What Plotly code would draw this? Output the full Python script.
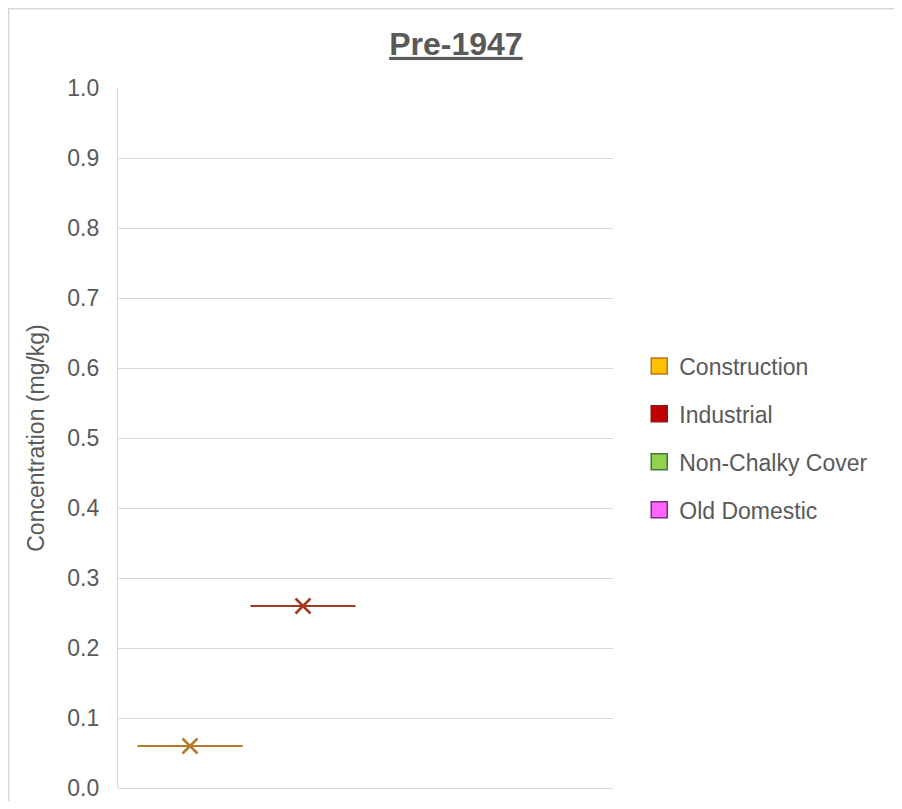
import numpy as np
import plotly.graph_objects as go

title = "Pre-1947"
series_names = ["Construction", "Industrial", "Non-Chalky Cover", "Old Domestic"]
construction = [0.06]
industrial = [0.26]
non_chalky_cover = []
old_domestic = []
series_values = [construction, industrial, non_chalky_cover, old_domestic]
y_ticks = [0.0, 0.1, 0.2, 0.3, 0.4, 0.5, 0.6, 0.7, 0.8, 0.9, 1.0]

fill_colors = ["#FFC000", "#C00000", "#92D050", "#FF66FF"]
line_colors = ["#B8782A", "#A23A22", "#3F7A3A", "#8A2E8A"]
legend_borders = ["#B8782A", "#8B1A1A", "#3F7A3A", "#7A2E7A"]

fig = go.Figure()
for i, (name, vals) in enumerate(zip(series_names, series_values)):
    pos = i + 1
    if len(vals) > 0:
        fig.add_trace(go.Box(
            y=vals, x0=pos, name=name, width=0.93,
            fillcolor=fill_colors[i], line=dict(color=line_colors[i], width=2),
            boxpoints=False, showlegend=False, hoverinfo="y",
        ))
        fig.add_trace(go.Scatter(
            x=[pos], y=[float(np.mean(vals))], mode="markers",
            marker=dict(symbol="x-thin", size=15, line=dict(color=line_colors[i], width=2.5)),
            showlegend=False, hoverinfo="y",
        ))
    fig.add_trace(go.Scatter(
        x=[None], y=[None], mode="markers", name=name, legendgroup=name,
        marker=dict(symbol="square", size=18, color=fill_colors[i],
                    line=dict(color=legend_borders[i], width=1.5)),
    ))

grey = "#595959"
fig.update_layout(
    width=894, height=793,
    margin=dict(l=110, r=289, t=80, b=13, autoexpand=False),
    paper_bgcolor="white", plot_bgcolor="white",
    font=dict(family="Liberation Sans, Arial, sans-serif", color=grey),
    title=dict(text="<b><u>" + title + "</u></b>", x=0.501, xanchor="center",
               y=0.955, yanchor="middle", font=dict(size=32, color=grey)),
    showlegend=True,
    legend=dict(x=1.053, y=0.5, xanchor="left", yanchor="middle",
                font=dict(size=23, color=grey), traceorder="grouped",
                tracegroupgap=15, itemsizing="trace"),
    xaxis=dict(range=[0.363, 4.743], showticklabels=False, showgrid=False,
               zeroline=False, showline=False, ticks="", automargin=False),
    yaxis=dict(range=[0, 1.0], tickvals=y_ticks, ticktext=[f"{v:.1f}" for v in y_ticks],
               showgrid=True, gridcolor="#D9D9D9", gridwidth=1.3,
               zeroline=True, zerolinecolor="#D9D9D9", zerolinewidth=1.3,
               showline=True, linecolor="#D9D9D9", linewidth=1.3,
               ticks="", ticklabelstandoff=13, ticklabeloverflow="allow", automargin=False,
               tickfont=dict(size=23, color=grey),
               title=dict(text="Concentration (mg/kg)", font=dict(size=23, color=grey), standoff=16)),
    shapes=[dict(type="rect", xref="paper", yref="paper",
                 x0=-0.2207, x1=2.0, y0=-0.2, y1=1.1132,
                 line=dict(color="#D9D9D9", width=1.5), fillcolor="rgba(0,0,0,0)", layer="below")],
)

fig.write_html("out.html")
